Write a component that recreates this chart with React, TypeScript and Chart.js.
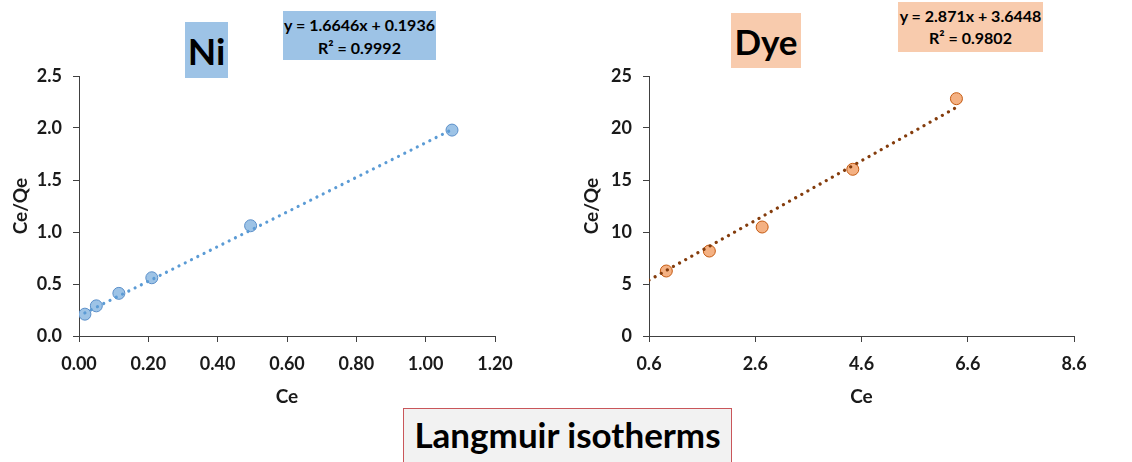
import React, { useEffect, useRef } from "react";
import { Chart, registerables } from "chart.js";

Chart.register(...registerables);

// ---- Data ----
const NI_CE = [0.017, 0.05, 0.115, 0.21, 0.495, 1.076];
const NI_CEQE = [0.21, 0.29, 0.41, 0.56, 1.06, 1.98];
const NI_FIT = [1.6646, 0.1936]; // slope, intercept
const NI_TREND_X = [0.017, 1.076];
const NI_X_TICKS = [0, 0.2, 0.4, 0.6, 0.8, 1.0, 1.2];
const NI_Y_TICKS = [0, 0.5, 1.0, 1.5, 2.0, 2.5];

const DYE_CE = [0.926, 1.736, 2.73, 4.436, 6.387];
const DYE_CEQE = [6.25, 8.17, 10.48, 16.03, 22.82];
const DYE_FIT = [2.871, 3.6448];
const DYE_TREND_X = [0.6, 6.387];
const DYE_X_TICKS = [0.6, 2.6, 4.6, 6.6, 8.6];
const DYE_Y_TICKS = [0, 5, 10, 15, 20, 25];

const FONT = "Lato, 'Open Sans', sans-serif";
const TEXT = "#1a1a1a";
const AXIS = "#404040";

type PanelProps = {
  left: number;
  xs: number[];
  ys: number[];
  fit: number[];
  trendX: number[];
  xTicks: number[];
  yTicks: number[];
  xDec: number;
  yDec: number;
  yAxisWidth: number;
  rightPad: number;
  yTitlePad: number;
  fill: string;
  stroke: string;
  trendColor: string;
};

function Panel(p: PanelProps) {
  const ref = useRef<HTMLCanvasElement | null>(null);
  useEffect(() => {
    if (!ref.current) return;
    const pts = p.xs.map((x, i) => ({ x, y: p.ys[i] }));
    const trend = p.trendX.map((x) => ({ x, y: p.fit[0] * x + p.fit[1] }));
    const tickFont = { family: FONT, size: 18, weight: "bold" as const };
    const titleFont = { family: FONT, size: 19, weight: "bold" as const };
    const chart = new Chart(ref.current, {
      type: "scatter",
      data: {
        datasets: [
          {
            type: "line",
            data: trend,
            borderColor: p.trendColor,
            borderWidth: 3.2,
            borderDash: [0.01, 7],
            borderCapStyle: "round",
            pointRadius: 0,
            fill: false,
            order: 0,
          } as any,
          {
            data: pts,
            backgroundColor: p.fill,
            borderColor: p.stroke,
            borderWidth: 1,
            pointRadius: 6,
            order: 1,
          },
        ],
      },
      options: {
        animation: false,
        responsive: false,
        layout: { padding: { left: 0, top: 76, right: p.rightPad, bottom: 46 } },
        plugins: { legend: { display: false }, tooltip: { enabled: false } },
        scales: {
          x: {
            type: "linear",
            min: p.xTicks[0],
            max: p.xTicks[p.xTicks.length - 1],
            afterBuildTicks: (s: any) => {
              s.ticks = p.xTicks.map((v) => ({ value: v }));
            },
            afterFit: (s: any) => {
              s.height = 80;
            },
            border: { color: AXIS, width: 1 },
            grid: { drawOnChartArea: false, drawTicks: true, tickLength: 6, color: AXIS },
            ticks: {
              font: tickFont,
              color: TEXT,
              padding: 11,
              maxRotation: 0,
              autoSkip: false,
              callback: (v: any) => Number(v).toFixed(p.xDec),
            },
            title: {
              display: true,
              text: "Ce",
              font: titleFont,
              color: TEXT,
              padding: { top: 0, bottom: 8 },
            },
          },
          y: {
            type: "linear",
            min: p.yTicks[0],
            max: p.yTicks[p.yTicks.length - 1],
            afterBuildTicks: (s: any) => {
              s.ticks = p.yTicks.map((v) => ({ value: v }));
            },
            afterFit: (s: any) => {
              s.width = p.yAxisWidth;
            },
            border: { color: AXIS, width: 1 },
            grid: { drawOnChartArea: false, drawTicks: true, tickLength: 6, color: AXIS },
            ticks: {
              font: tickFont,
              color: TEXT,
              padding: 11,
              autoSkip: false,
              callback: (v: any) => Number(v).toFixed(p.yDec),
            },
            title: {
              display: true,
              text: "Ce/Qe",
              font: titleFont,
              color: TEXT,
              padding: { top: p.yTitlePad, bottom: 0 },
            },
          },
        },
      },
    });
    return () => chart.destroy();
  }, []);
  return (
    <canvas
      ref={ref}
      width={566}
      height={462}
      style={{ position: "absolute", left: p.left, top: 0, width: 566, height: 462 }}
    />
  );
}

function Box(props: {
  left: number;
  top: number;
  width: number;
  height: number;
  bg: string;
  children: React.ReactNode;
  fontSize: number;
  lineHeight?: string;
}) {
  return (
    <div
      style={{
        position: "absolute",
        left: props.left,
        top: props.top,
        width: props.width,
        height: props.height,
        background: props.bg,
        fontFamily: FONT,
        fontWeight: 700,
        fontSize: props.fontSize,
        lineHeight: props.lineHeight || "normal",
        color: "#000",
        display: "flex",
        flexDirection: "column",
        alignItems: "center",
        justifyContent: "center",
        textAlign: "center",
        whiteSpace: "nowrap",
      }}
    >
      {props.children}
    </div>
  );
}

export default function App() {
  return (
    <div
      style={{
        position: "absolute",
        left: 0,
        top: 0,
        width: 1132,
        height: 462,
        background: "#fff",
        overflow: "hidden",
      }}
    >
      <Panel
        left={0}
        xs={NI_CE}
        ys={NI_CEQE}
        fit={NI_FIT}
        trendX={NI_TREND_X}
        xTicks={NI_X_TICKS}
        yTicks={NI_Y_TICKS}
        xDec={2}
        yDec={1}
        yAxisWidth={79}
        rightPad={71}
        yTitlePad={9}
        fill="#9DC3E6"
        stroke="#5B8FC9"
        trendColor="#5B9BD5"
      />
      <Panel
        left={566}
        xs={DYE_CE}
        ys={DYE_CEQE}
        fit={DYE_FIT}
        trendX={DYE_TREND_X}
        xTicks={DYE_X_TICKS}
        yTicks={DYE_Y_TICKS}
        xDec={1}
        yDec={0}
        yAxisWidth={83}
        rightPad={58}
        yTitlePad={14}
        fill="#F4B183"
        stroke="#C55A11"
        trendColor="#843C0C"
      />
      <Box left={185} top={22} width={43} height={56} bg="#9DC3E6" fontSize={37}>
        Ni
      </Box>
      <Box left={283} top={11} width={153} height={49} bg="#9DC3E6" fontSize={16} lineHeight="23px">
        <div>y = 1.6646x + 0.1936</div>
        <div>R² = 0.9992</div>
      </Box>
      <Box left={731} top={13} width={70} height={55} bg="#F8CBAD" fontSize={35}>
        Dye
      </Box>
      <Box left={898} top={2} width={145} height={50} bg="#F8CBAD" fontSize={16} lineHeight="22px">
        <div>y = 2.871x + 3.6448</div>
        <div>R² = 0.9802</div>
      </Box>
      <div
        style={{
          position: "absolute",
          left: 403,
          top: 408,
          width: 327,
          height: 70,
          background: "#F2F2F2",
          border: "1px solid #C9565A",
          fontFamily: FONT,
          fontWeight: 700,
          fontSize: 35,
          color: "#000",
          textAlign: "center",
          lineHeight: "50px",
          whiteSpace: "nowrap",
        }}
      >
        Langmuir isotherms
      </div>
    </div>
  );
}
